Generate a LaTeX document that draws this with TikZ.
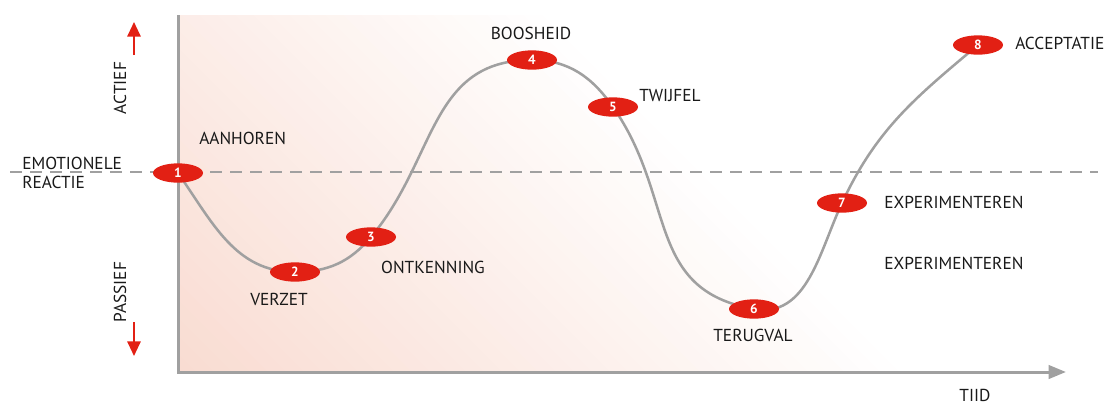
\documentclass[tikz,border=0pt]{standalone}
\usepackage{fontspec}
\setmainfont{PT Sans}
\usetikzlibrary{shapes.geometric,arrows.meta}
\definecolor{stagered}{RGB}{226,32,20}
\definecolor{axisgray}{RGB}{160,160,160}
\definecolor{bgpink}{RGB}{249,220,210}
\def\plotarea{(178,33) rectangle (1066,390)}
\tikzset{
  stage/.style={ellipse,fill=stagered,text=white,font=\bfseries\fontsize{10}{10}\selectfont,
    minimum width=37.5pt,minimum height=14.5pt,inner sep=0pt},
  lbl/.style={font=\fontsize{13}{14.25}\selectfont,text=black!90,inner sep=0pt},
  curve/.style={draw=axisgray,line width=1.9pt},
  redarrow/.style={draw=stagered,line width=1.5pt,-{Triangle[length=11pt,width=10pt]}},
}

\begin{document}
\begin{tikzpicture}[x=0.75pt,y=0.75pt]
    \useasboundingbox (0,0) rectangle (1104,405);
    \begin{scope}
        \clip \plotarea;
        \foreach \i [evaluate=\i as \pct using {100-100*\i/40}] in {0,...,39}
            \fill[bgpink!\pct!white] (178+18*\i,33) -- ++(19,0) -- ++(-400,400) -- ++(-19,0) -- cycle;
    \end{scope}
    \draw[axisgray,line width=1.5pt,dash pattern=on 9pt off 6pt] (10,233) -- (1098,233);
    \draw[axisgray,line width=2.25pt,-{Triangle[length=13pt,width=10pt]}] (178,390) -- (178,33) -- (1066,33);

    \path (178,232) coordinate (p1) (295,133) coordinate (p2) (371,168) coordinate (p3)
          (532,345) coordinate (p4) (613,298) coordinate (p5) (754,96) coordinate (p6)
          (842,202) coordinate (p7) (978,360) coordinate (p8);
    \draw[curve] (p1) to[out=-55,in=180] (p2) to[out=0,in=230] (p3) to[out=50,in=180,looseness=1.1] (p4)
        to[out=0,in=125] (p5) to[out=-55,in=170,looseness=1.15] (p6) to[out=-10,in=245] (p7)
        to[out=65,in=220] (p8);
    \foreach \i in {1,...,8}
        \node[stage] (s\i) at (p\i) {\i};

    \node[lbl,anchor=west,align=left] (emotie) at (22,232.5) {EMOTIONELE\\REACTIE};
    \node[lbl,anchor=west] (aanhoren) at (199,267) {AANHOREN};
    \node[lbl] (verzet) at (279,106) {VERZET};
    \node[lbl] (ontkenning) at (433,138) {ONTKENNING};
    \node[lbl] (boosheid) at (531,372) {BOOSHEID};
    \node[lbl,anchor=west] (twijfel) at (639,309) {TWIJFEL};
    \node[lbl] (terugval) at (753,70) {TERUGVAL};
    \node[lbl,anchor=west] (exp1) at (884,203) {EXPERIMENTEREN};
    \node[lbl,anchor=west] (exp2) at (884,142) {EXPERIMENTEREN};
    \node[lbl,anchor=west] (acceptatie) at (1015,362) {ACCEPTATIE};
    \node[lbl] (tiid) at (975,10) {TIID};

    \node[lbl,rotate=90] (actief) at (120,317) {ACTIEF};
    \node[lbl,rotate=90] (passief) at (120,113) {PASSIEF};
    \draw[redarrow] (134,350) -- (134,383);
    \draw[redarrow] (134,83) -- (134,49);
\end{tikzpicture}
\end{document}
